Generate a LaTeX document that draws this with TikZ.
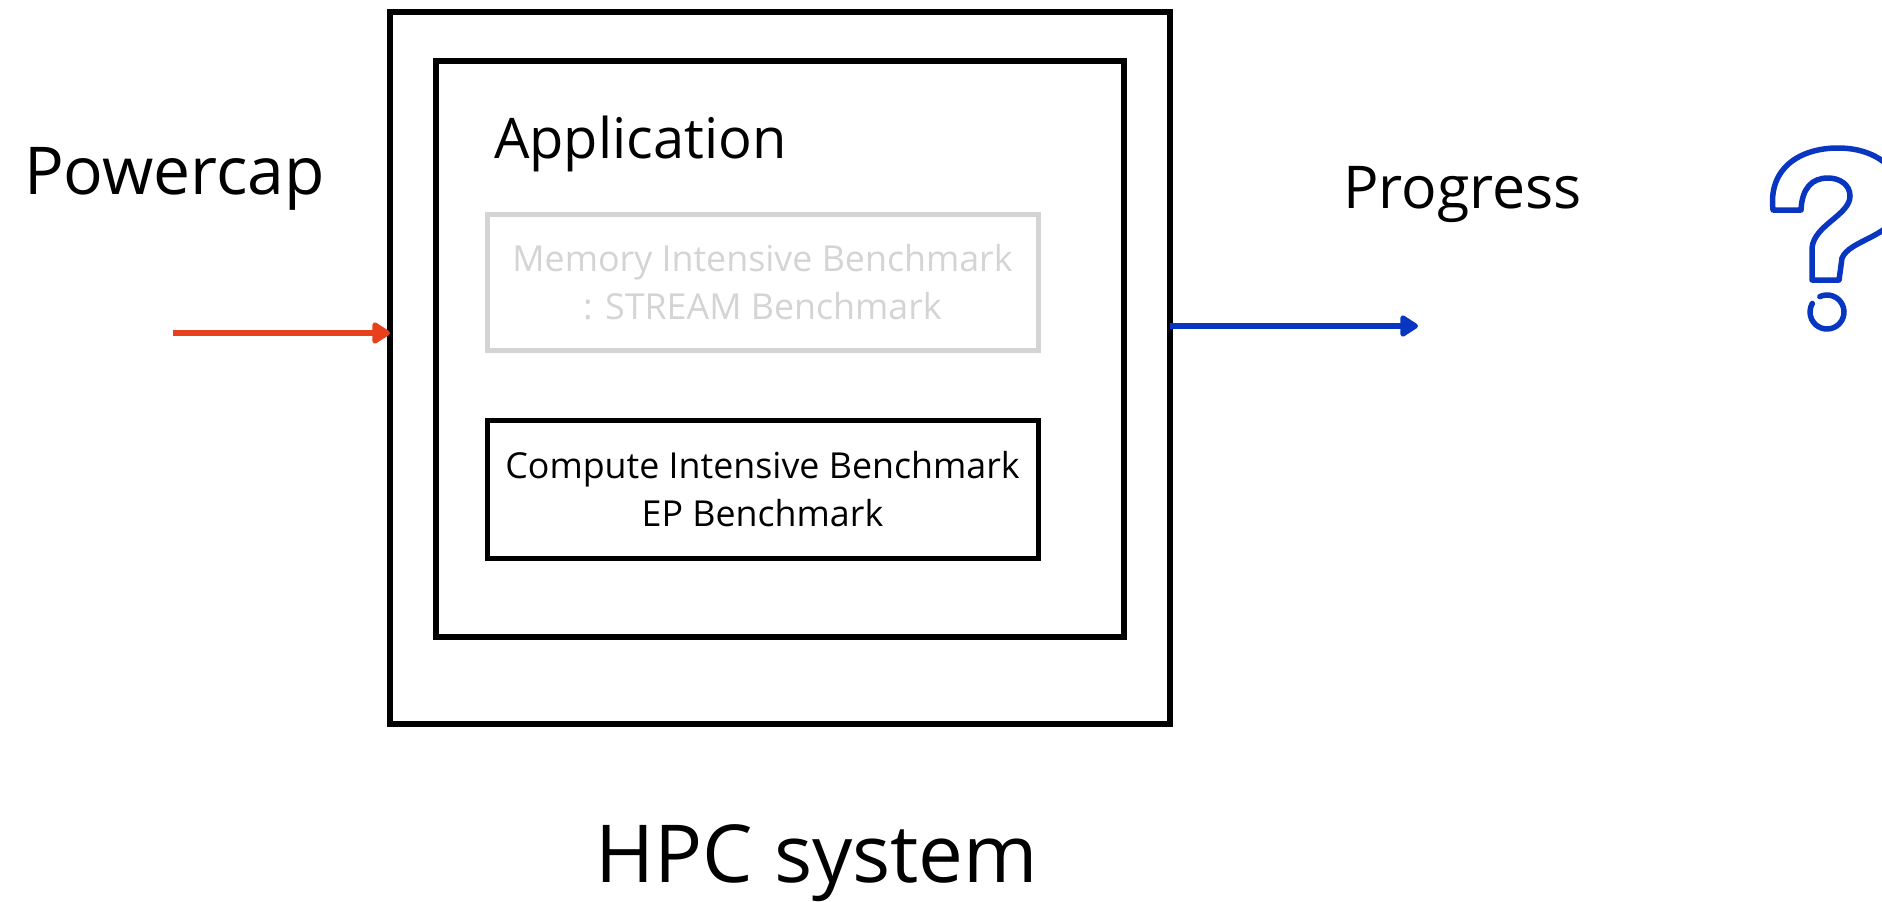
\documentclass[tikz,border=0pt]{standalone}
\usepackage{fontspec}
\setmainfont{Open Sans}
\usetikzlibrary{arrows.meta}
\definecolor{capred}{HTML}{E8401C}
\definecolor{progblue}{HTML}{0836C0}
\definecolor{fadegray}{HTML}{D4D4D4}
\begin{document}
\begin{tikzpicture}[x=1pt,y=-1pt,
  frame/.style={draw=black, line width=6pt, inner sep=0pt, outer sep=0pt},
  benchbox/.style={draw=black, line width=5pt, inner sep=0pt, outer sep=0pt,
    minimum width=551pt, minimum height=136pt, align=center,
    font=\fontsize{35.8}{48}\selectfont},
  fadedbox/.style={benchbox, draw=fadegray, text=fadegray},
  label/.style={inner sep=0pt, anchor=base west},
  flow/.style={line width=6pt, -{Triangle[length=20pt,width=24pt,round]}},
  qmark/.style={draw=progblue, line width=5.5pt, line join=round, line cap=round}]
  \useasboundingbox (0,0) rectangle (1882,902);
  \clip (0,0) rectangle (1882,902);

  % system and application frames
  \node[frame, minimum width=780pt, minimum height=712pt] (hpc) at (780,368) {};
  \node[frame, minimum width=688pt, minimum height=576pt] (app) at (780,349) {};
  \node[label, font=\fontsize{56}{60}\selectfont] (apptitle) at (494,158) {Application};

  % benchmarks
  \node[fadedbox] (stream) at (762.5,282) {Memory Intensive Benchmark\\: STREAM Benchmark};
  \node[benchbox, minimum height=138pt] (ep) at (762.5,489) {Compute Intensive Benchmark\\EP Benchmark};

  % input and output labels
  \node[label, font=\fontsize{66}{70}\selectfont] (pcap) at (24,194) {Powercap};
  \node[label, font=\fontsize{59}{64}\selectfont] (prog) at (1343,208) {Progress};
  \node[inner sep=0pt, anchor=base, font=\fontsize{80}{84}\selectfont] (sys) at (817,882) {HPC system};

  % input / output connectors
  \coordinate (pcin) at (173,333);
  \coordinate (progout) at (1418,326);
  \draw[flow, draw=capred, fill=capred] (pcin) -- (pcin -| hpc.west);
  \draw[flow, draw=progblue, fill=progblue] (progout -| hpc.east) -- (progout);

  % outlined question mark
  \draw[qmark] (1773,210) .. controls (1768,168) and (1800,148) .. (1838,148)
    .. controls (1885,148) and (1910,180) .. (1898,212)
    .. controls (1888,238) and (1850,240) .. (1842,258)
    -- (1839,280) -- (1812,280) -- (1812,248)
    .. controls (1814,225) and (1850,215) .. (1850,196)
    .. controls (1850,185) and (1840,178) .. (1828,178)
    .. controls (1812,178) and (1802,188) .. (1801,210) -- cycle;
  \draw[qmark] (1827,312) ++(245:17) arc[start angle=245, end angle=570, radius=17];
\end{tikzpicture}
\end{document}
